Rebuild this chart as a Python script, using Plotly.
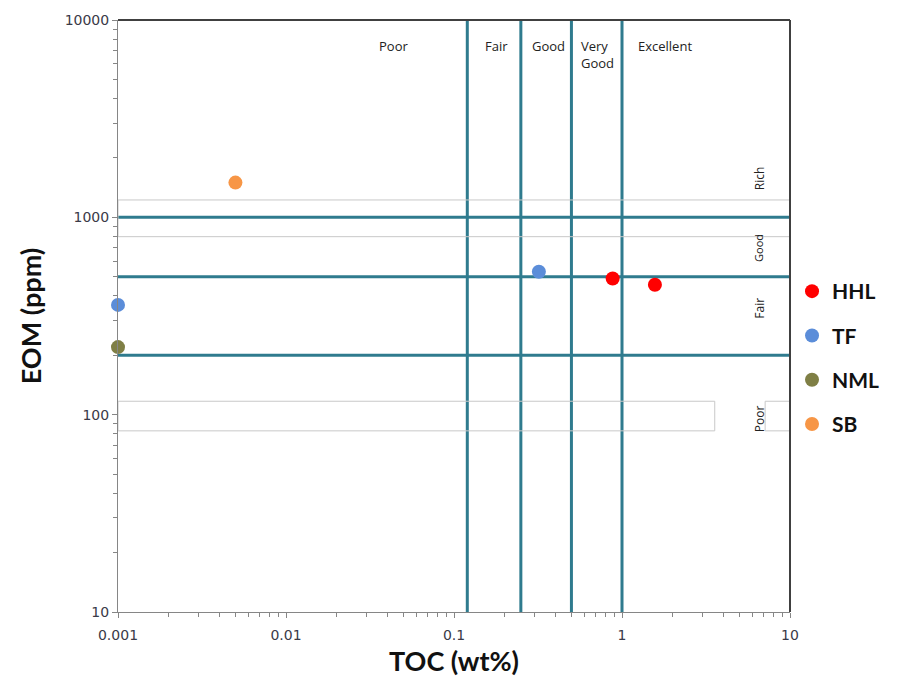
import math
import plotly.graph_objects as go

# Sample measurements: TOC (wt%) vs EOM (ppm)
series_names = ["HHL", "TF", "NML", "SB"]
series_colors = ["#FF0000", "#5B8DD9", "#7F7F45", "#F79646"]
toc_values = [[0.88, 1.57], [0.001, 0.32], [0.001], [0.005]]
eom_values = [[490, 455], [360, 530], [220], [1500]]

# Source-rock quality thresholds
toc_limits = [0.12, 0.25, 0.5, 1.0]
eom_limits = [200, 500, 1000]
toc_classes = ["Poor", "Fair", "Good", "Very<br>Good", "Excellent"]
toc_class_pos = [0.0434, 0.178, 0.367, 0.71, 1.8]
eom_classes = ["Rich", "Good", "Fair", "Poor"]
eom_class_pos = [1580, 700, 345, 95]

x_ticks = [0.001, 0.01, 0.1, 1, 10]
x_ticktext = ["0.001", "0.01", "0.1", "1", "10"]
y_ticks = [10, 100, 1000, 10000]
y_ticktext = ["10", "100", "1000", "10000"]

LINE = "#2F7B8E"
FRAME_GREY = "#C8C8C8"
AXIS_GREY = "#868686"

fig = go.Figure()

for name, color, xs, ys in zip(series_names, series_colors, toc_values, eom_values):
    fig.add_trace(go.Scatter(
        x=xs, y=ys, mode="markers", name=name, legendgroup=name,
        marker=dict(color=color, size=14, line=dict(width=0)),
        cliponaxis=False,
    ))

shapes = []
for xv in toc_limits:
    shapes.append(dict(type="line", xref="x", yref="paper", x0=xv, x1=xv, y0=0, y1=1,
                       line=dict(color=LINE, width=3), layer="below"))
for yv in eom_limits:
    shapes.append(dict(type="line", xref="paper", yref="y", x0=0, x1=1, y0=yv, y1=yv,
                       line=dict(color=LINE, width=3), layer="below"))

# faint text-box outlines
shapes.append(dict(type="rect", xref="paper", yref="paper", x0=0, x1=1, y0=0.634, y1=0.696,
                   line=dict(color=FRAME_GREY, width=1), layer="below"))
shapes.append(dict(type="rect", xref="paper", yref="paper", x0=0, x1=0.888, y0=0.306, y1=0.356,
                   line=dict(color=FRAME_GREY, width=1), layer="below"))
shapes.append(dict(type="rect", xref="paper", yref="paper", x0=0.963, x1=1, y0=0.306, y1=0.356,
                   line=dict(color=FRAME_GREY, width=1), layer="below"))

# dark frame on top and right
shapes.append(dict(type="line", xref="paper", yref="paper", x0=0, x1=1, y0=1, y1=1,
                   line=dict(color="#404040", width=2)))
shapes.append(dict(type="line", xref="paper", yref="paper", x0=1, x1=1, y0=0, y1=1,
                   line=dict(color="#404040", width=2)))

annotations = []
for label, pos in zip(toc_classes, toc_class_pos):
    annotations.append(dict(text=label, x=math.log10(pos), xref="x", y=0.975, yref="paper",
                            yanchor="top", xanchor="center", showarrow=False,
                            font=dict(family="Open Sans", size=13, color="#222222"),
                            align="left"))
for label, pos in zip(eom_classes, eom_class_pos):
    annotations.append(dict(text=label, x=0.954, xref="paper", y=math.log10(pos), yref="y",
                            textangle=-90, showarrow=False, xanchor="center", yanchor="middle",
                            font=dict(family="Open Sans", size=12 if label != "Good" else 11,
                                      color="#222222")))

axis_common = dict(
    type="log", showgrid=False, zeroline=False, showline=True,
    linecolor=AXIS_GREY, linewidth=1,
    ticks="outside", ticklen=5, tickcolor=AXIS_GREY,
    minor=dict(ticks="outside", ticklen=4, tickcolor=AXIS_GREY, dtick="D1", showgrid=False),
    tickfont=dict(family="DejaVu Sans", size=14, color="#3A3A48"),
)

fig.update_layout(
    width=916, height=695,
    margin=dict(l=118, r=126, t=17, b=83),
    paper_bgcolor="white", plot_bgcolor="white",
    shapes=shapes, annotations=annotations,
    showlegend=True,
    legend=dict(x=1.003, xanchor="left", y=0.576, yanchor="top",
                font=dict(family="Lato", size=21, color="#111111", weight="bold"),
                tracegroupgap=14, itemwidth=30, bgcolor="rgba(0,0,0,0)"),
    xaxis=dict(range=[-3, 1], tickvals=x_ticks, ticktext=x_ticktext, ticklabelstandoff=5,
               title=dict(text="TOC (wt%)", standoff=10,
                          font=dict(family="Lato", size=27, color="#111111", weight="bold")),
               **axis_common),
    yaxis=dict(range=[1, 4], tickvals=y_ticks, ticktext=y_ticktext, ticksuffix="\u2002",
               title=dict(text="EOM (ppm)", standoff=15,
                          font=dict(family="Lato", size=27, color="#111111", weight="bold")),
               **axis_common),
)

fig.write_html("out.html")
